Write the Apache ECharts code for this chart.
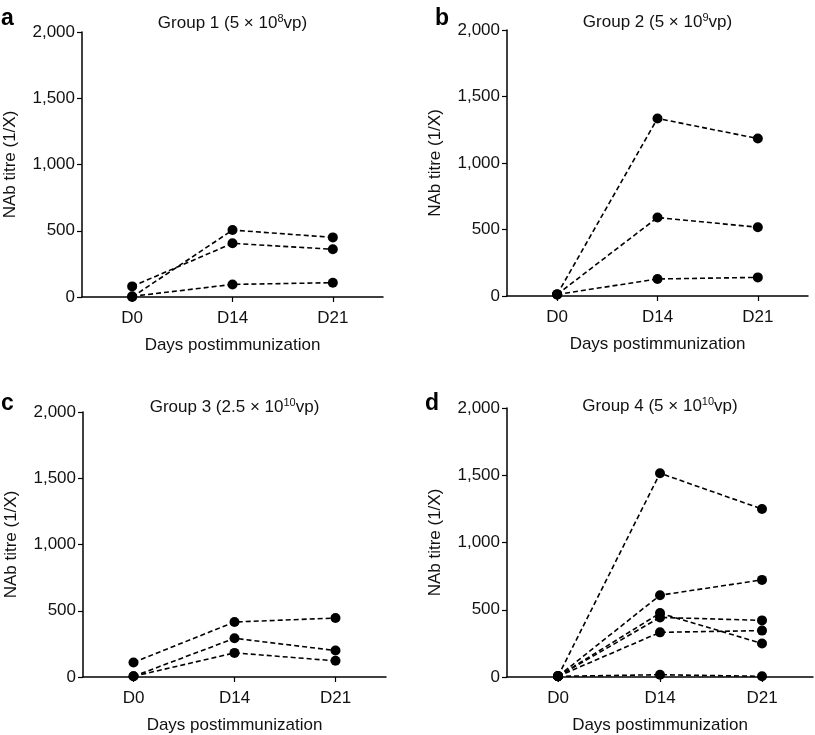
<!DOCTYPE html>
<html>
<head>
<meta charset="utf-8">
<script src="https://cdn.jsdelivr.net/npm/echarts@6/dist/echarts.min.js"></script>
<style>
html,body{margin:0;padding:0;background:#fff;}
#chart{width:815px;height:735px;}
</style>
</head>
<body>
<div id="chart"></div>
<script>
// ---- data ----
const categories = ['D0', 'D14', 'D21'];
const yTickValues = [0, 500, 1000, 1500, 2000];
const panelLetters = ['a', 'b', 'c', 'd'];
const groupTitles = [
  ['Group 1 (5 \u00d7 10', '8', 'vp)'],
  ['Group 2 (5 \u00d7 10', '9', 'vp)'],
  ['Group 3 (2.5 \u00d7 10', '10', 'vp)'],
  ['Group 4 (5 \u00d7 10', '10', 'vp)']
];
const group1 = [[0, 505, 450], [80, 405, 360], [5, 95, 108]];
const group2 = [[12, 1335, 1184], [12, 590, 517], [12, 128, 140]];
const group3 = [[110, 415, 445], [5, 292, 200], [5, 182, 122]];
const group4 = [[5, 1515, 1249], [5, 608, 722], [5, 475, 249], [5, 443, 421], [5, 332, 345], [5, 17, 5]];
const groups = [group1, group2, group3, group4];

// ---- layout ----
const FONT = 'Liberation Sans, Arial, Helvetica, sans-serif';
const TXT = '#111';
const grids = [
  {left: 82, top: 32, width: 301, height: 265},
  {left: 507, top: 30, width: 301, height: 266},
  {left: 83, top: 412, width: 303, height: 266},
  {left: 507, top: 408, width: 306, height: 270}
];
const titleTops = [13, 12, 397, 396];
const letterPos = [[1, 7], [435, 7], [1, 392], [425, 392]];

const titles = [];
groupTitles.forEach((t, i) => {
  const g = grids[i];
  titles.push({
    text: '{a|' + t[0] + '}{s|' + t[1] + '}{a|' + t[2] + '}',
    left: g.left + g.width / 2,
    top: titleTops[i],
    textAlign: 'center',
    padding: 0,
    textStyle: {
      fontFamily: FONT, fontSize: 17, fontWeight: 'normal', color: TXT,
      rich: {
        a: {fontFamily: FONT, fontSize: 17, color: TXT, lineHeight: 20},
        s: {fontFamily: FONT, fontSize: 11, color: TXT, verticalAlign: 'top', lineHeight: 11}
      }
    }
  });
});
panelLetters.forEach((l, i) => {
  titles.push({
    text: l, left: letterPos[i][0], top: letterPos[i][1], padding: 0,
    textStyle: {fontFamily: FONT, fontSize: 23, fontWeight: 'bold', color: '#000'}
  });
});

const xAxes = grids.map((g, i) => ({
  type: 'category', gridIndex: i, data: categories, boundaryGap: true,
  axisLine: {show: true, lineStyle: {color: '#000', width: 1.5}},
  axisTick: {show: true, alignWithLabel: true, length: 5, lineStyle: {color: '#000', width: 1.2}},
  axisLabel: {fontFamily: FONT, fontSize: 17, color: TXT, margin: 13},
  splitLine: {show: false},
  name: 'Days postimmunization', nameLocation: 'middle', nameGap: 40,
  nameTextStyle: {fontFamily: FONT, fontSize: 17, color: TXT}
}));
const yAxes = grids.map((g, i) => ({
  type: 'value', gridIndex: i, min: yTickValues[0], max: yTickValues[yTickValues.length - 1],
  interval: yTickValues[1] - yTickValues[0],
  axisLine: {show: true, lineStyle: {color: '#000', width: 1.5}},
  axisTick: {show: true, length: 5, lineStyle: {color: '#000', width: 1.2}},
  axisLabel: {fontFamily: FONT, fontSize: 17, color: TXT, margin: 7,
    formatter: v => v.toLocaleString('en-US')},
  splitLine: {show: false},
  name: 'NAb titre (1/X)', nameLocation: 'middle', nameGap: 63,
  nameTextStyle: {fontFamily: FONT, fontSize: 17, color: TXT}
}));

const series = [];
groups.forEach((grp, gi) => {
  grp.forEach(row => {
    series.push({
      type: 'line', xAxisIndex: gi, yAxisIndex: gi, data: row,
      symbol: 'circle', symbolSize: 10, clip: false,
      lineStyle: {color: '#000', width: 1.6, type: [5, 3]},
      itemStyle: {color: '#000'},
      animation: false, silent: true
    });
  });
});

const chart = echarts.init(document.getElementById('chart'), null, {renderer: 'canvas'});
chart.setOption({
  backgroundColor: '#fff',
  animation: false,
  title: titles,
  grid: grids,
  xAxis: xAxes,
  yAxis: yAxes,
  series: series
});
</script>
</body>
</html>
